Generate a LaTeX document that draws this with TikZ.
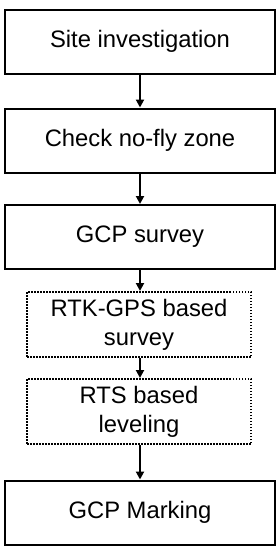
\documentclass[tikz,border=0pt]{standalone}
\usepackage{fontspec}
\setmainfont{Liberation Sans}
\usetikzlibrary{arrows.meta, positioning}

\begin{document}
\begin{tikzpicture}[
    x=1pt, y=1pt,
    >={Triangle[length=8pt, width=8pt]}, line width=2.3pt,
    stepbox/.style={rectangle, draw=black, fill=white, line width=2pt, minimum width=270pt, minimum height=64pt, align=center, font=\fontsize{23.8}{29}\selectfont, inner sep=2pt},
    optbox/.style={rectangle, draw=black, fill=white, line width=2pt, dash pattern=on 1.5pt off 1.5pt, minimum width=224pt, minimum height=65pt, align=center, font=\fontsize{23.8}{29}\selectfont, inner sep=2pt}
]
\useasboundingbox (0,0) rectangle (279,-550);

% Main steps
\node[stepbox] (site) at (140, -41.5) {Site investigation};
\node[stepbox] (nofly) at (140, -140.5) {Check no-fly zone};
\node[stepbox] (gcp) at (140, -237) {GCP survey};

% Survey options
\node[optbox] (rtk) at (139, -324.5) {RTK-GPS based\\survey};
\node[optbox] (rts) at (139, -411.5) {RTS based\\leveling};

\node[stepbox] (marking) at (140, -512.5) {GCP Marking};

% Connections
\draw[->] (site) -- (nofly);
\draw[->] (nofly) -- (gcp);
\draw[->] (gcp.south) -- (gcp.south |- rtk.north);
\draw[->] (rtk.south -| gcp.south) -- (gcp.south |- rts.north);
\draw[->] (rts.south -| gcp.south) -- (marking);
\end{tikzpicture}
\end{document}
